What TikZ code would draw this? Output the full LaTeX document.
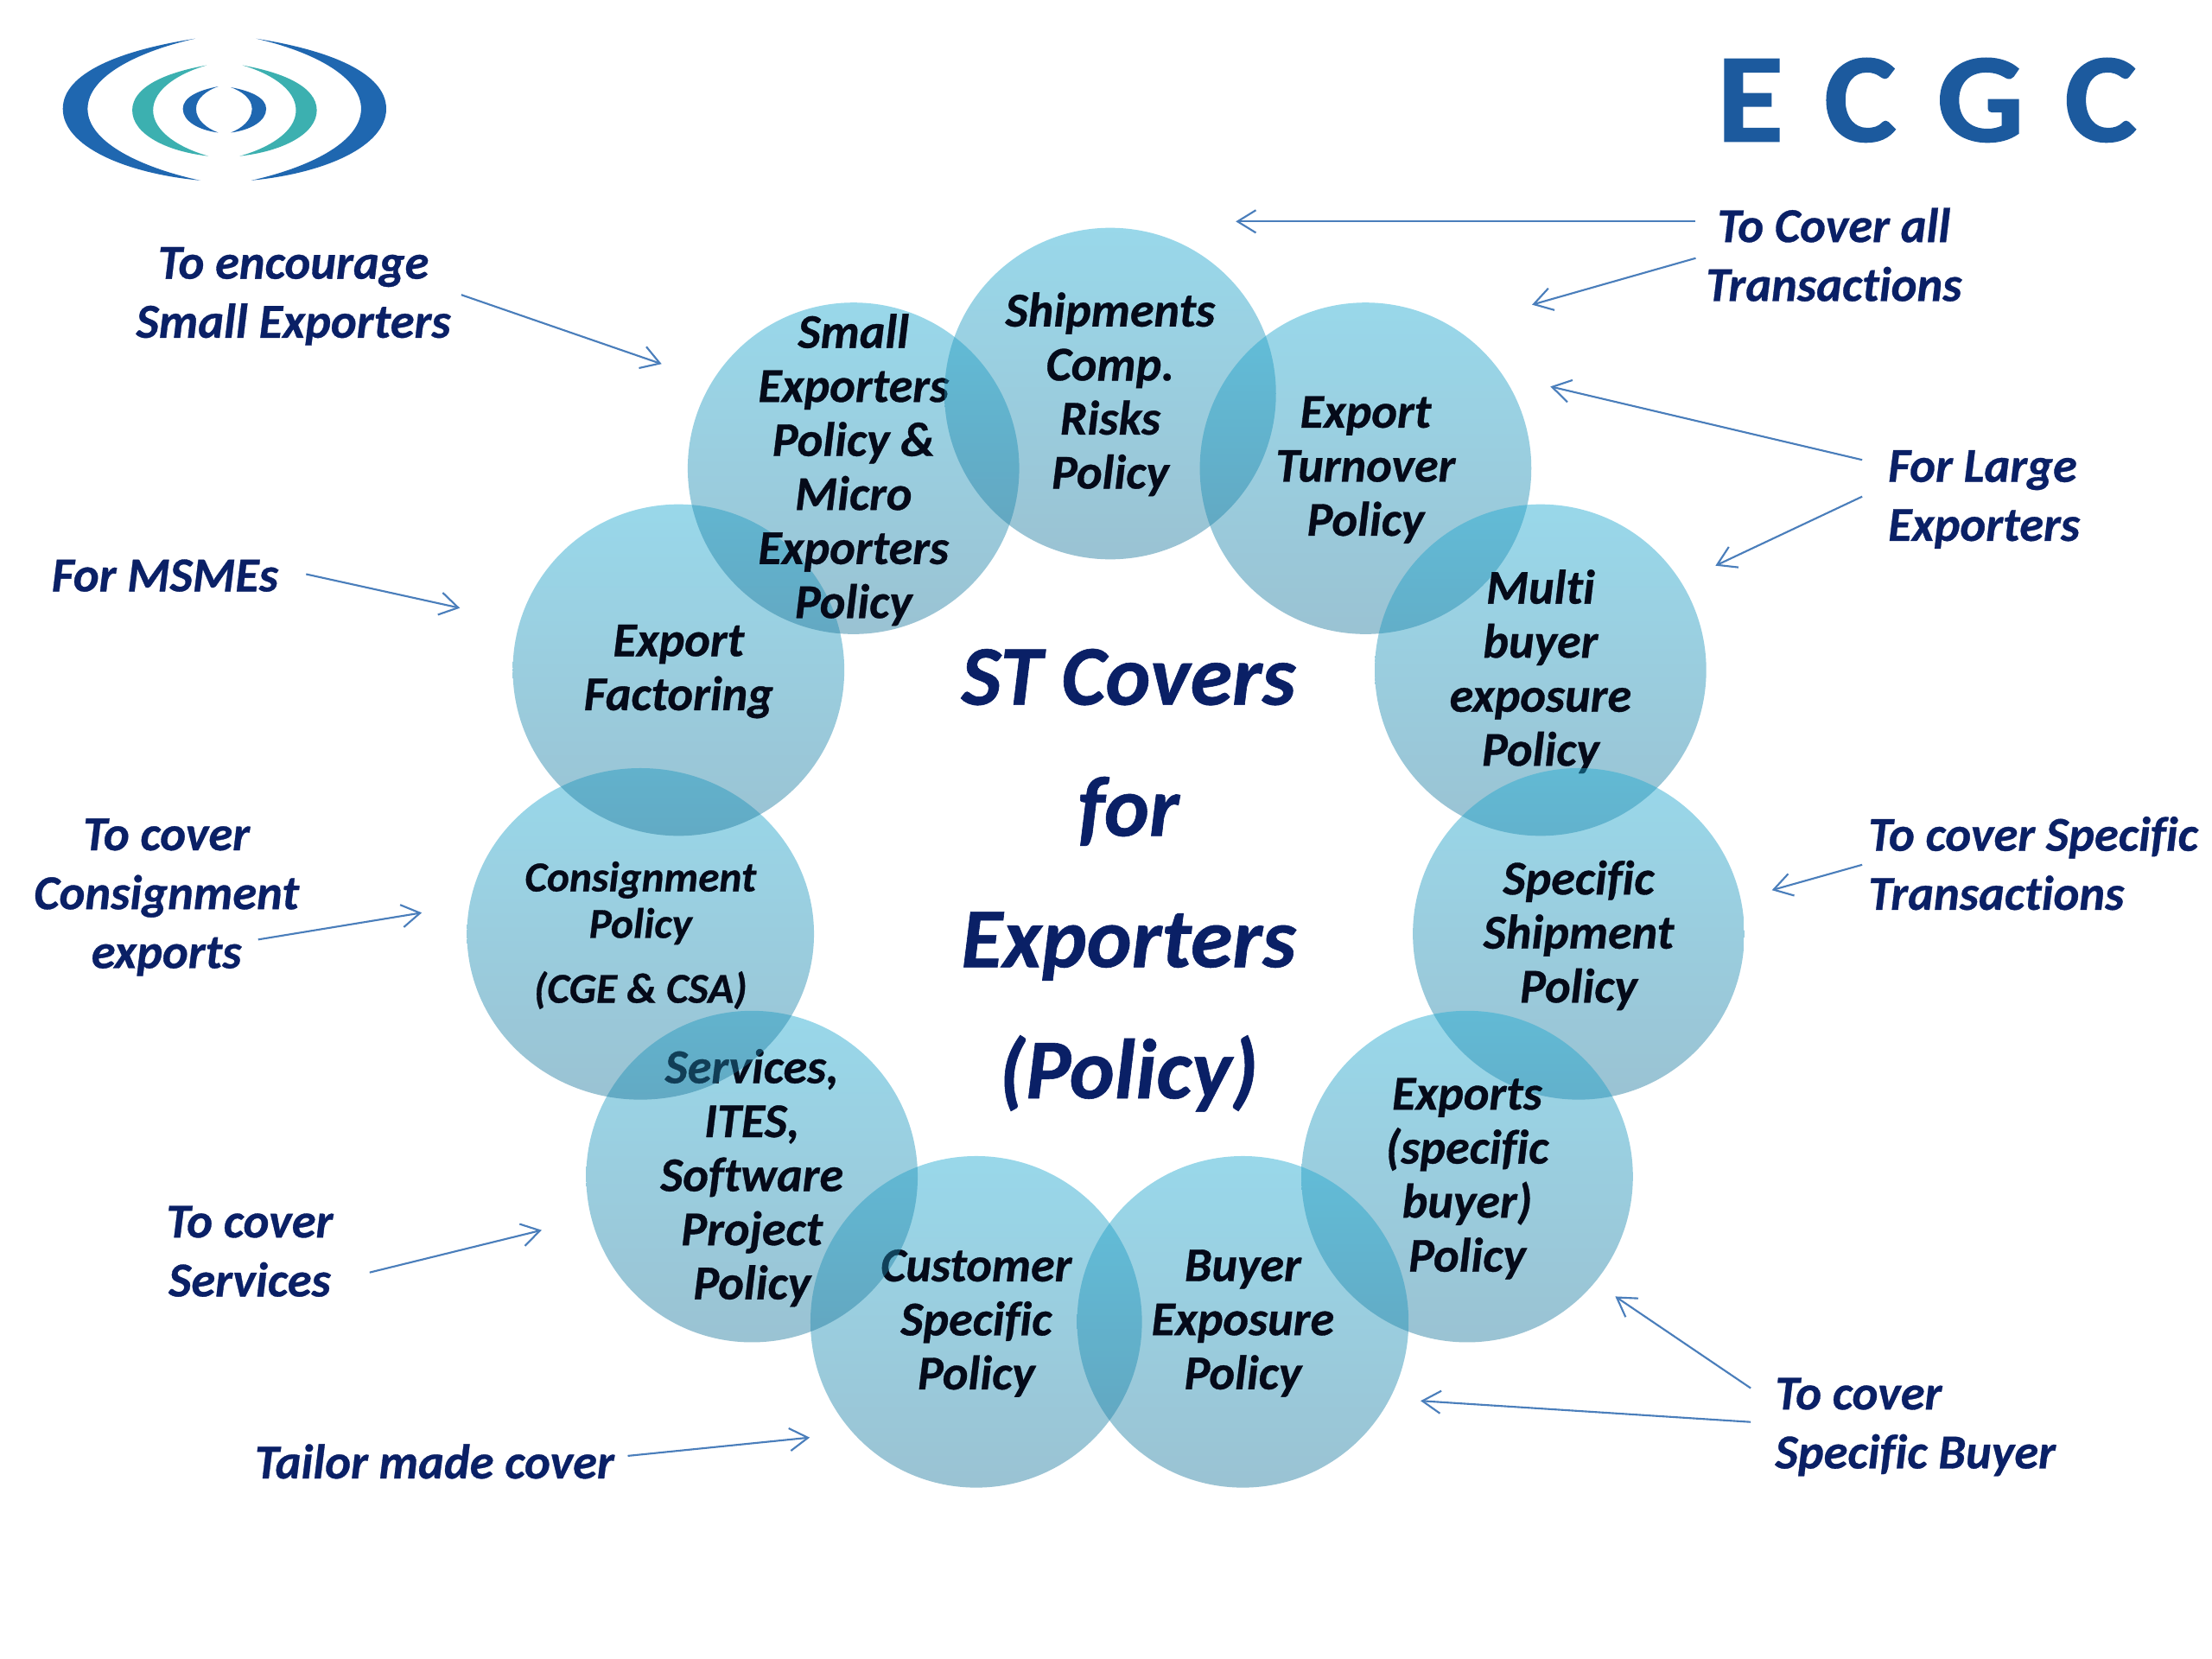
\documentclass[tikz,border=0pt]{standalone}
\usepackage{fontspec}
\setmainfont{Carlito}[Ligatures=NoCommon,BoldItalicFeatures={FakeBold=.6}]
\newfontfamily\brandfont[FakeStretch=1.08,WordSpace=1.3,FakeBold=1,UprightFont=* Bold]{Carlito}
\usetikzlibrary{shapes.geometric,arrows.meta}
\definecolor{navy}{RGB}{10,32,102}
\definecolor{ink}{RGB}{5,10,25}
\definecolor{arrowblue}{RGB}{74,126,187}
\definecolor{bubtop}{RGB}{31,169,209}
\definecolor{bubbot}{RGB}{33,122,158}
\definecolor{logoblue}{RGB}{31,103,176}
\definecolor{logoteal}{RGB}{60,176,176}
\definecolor{ecgc}{RGB}{28,90,158}
\tikzset{
  bubble/.style={ellipse,inner sep=0pt,minimum height=117.5pt,top color=bubtop,bottom color=bubbot,draw=none,fill opacity=.45},
  bubtext/.style={align=center,text=ink,inner sep=0pt,font=\fontsize{17.2}{19.15}\selectfont\bfseries\itshape},
  smalltext/.style={bubtext,font=\fontsize{15.1}{16.5}\selectfont\bfseries\itshape},
  lab/.style={align=center,text=navy,inner sep=0pt,font=\fontsize{17.3}{20.9}\selectfont\bfseries\itshape},
  labl/.style={lab,align=left,anchor=west},
  head/.style={align=center,text=navy,inner sep=0pt,font=\fontsize{30.2}{46.5}\selectfont\bfseries\itshape},
  pointer/.style={draw=arrowblue,line width=.65pt,-{Straight Barb[length=6.5pt,width=8pt]}},
}
\newcommand{\bub}[6][117.5pt]{\node[bubble,minimum width=#1] (#2) at (#3,#4) {};\node[bubtext] (#2-t) at (#3,#5) {#6};}
% crescent: top x,y; bottom x,y; outer x; inner x; mid y
\newcommand{\crescent}[8]{\fill[#1] (#2,#3)
  .. controls ({#2+.55*(#6-#2)},{#3+.16*(#8-#3)}) and (#6,{#8-.52*(#8-#3)}) .. (#6,#8)
  .. controls (#6,{#8+.52*(#5-#8)}) and ({#4+.55*(#6-#4)},{#5-.1*(#5-#8)}) .. (#4,#5)
  .. controls ({#4+.5*(#7-#4)},{#5-.17*(#5-#8)}) and (#7,{#8+.48*(#5-#8)}) .. (#7,#8)
  .. controls (#7,{#8-.48*(#8-#3)}) and ({#2+.5*(#7-#2)},{#3+.17*(#8-#3)}) .. cycle;}
\begin{document}
\begin{tikzpicture}[x=.5pt,y=-.5pt]
\useasboundingbox (0,0) rectangle (1568,1176);
\fill[white] (0,0) rectangle (1568,1176);
% logo
\begin{scope}[x=.1172pt,y=-.1015pt]
\crescent{logoblue}{590}{135}{605}{630}{190}{265}{380}
\crescent{logoblue}{775}{135}{760}{630}{1168}{1092}{380}
\crescent{logoteal}{625}{228}{630}{545}{400}{463}{385}
\crescent{logoteal}{733}{228}{725}{545}{958}{895}{385}
\crescent{logoblue}{660}{302}{660}{463}{553}{593}{380}
\crescent{logoblue}{698}{305}{698}{463}{805}{762}{380}
\end{scope}
\node[text=ecgc,inner sep=0pt,font=\fontsize{45}{45}\brandfont] (brand) at (1366,71) {E C G C};
% bubbles
\bub{customer}{692}{937}{938}{Customer\\Specific\\Policy}
\bub{services}{533}{834}{835}{Services,\\ITES,\\Software\\Project\\Policy}
\node[bubble,minimum width=123pt] (consign) at (454,662) {};
\node[smalltext] (consign-t) at (454,663) {Consignment\\Policy\\[6.5pt](CGE \& CSA)};
\bub{factoring}{481}{475}{476}{Export\\Factoring}
\bub{small}{605}{332}{333}{Small\\Exporters\\Policy \&\\Micro\\Exporters\\Policy}
\bub{shipments}{787}{279}{279.5}{Shipments\\Comp.\\Risks\\Policy}
\bub{turnover}{968}{332}{333}{Export\\Turnover\\Policy}
\bub{multi}{1092}{475}{476}{Multi\\buyer\\exposure\\Policy}
\bub{specific}{1119}{662}{663}{Specific\\Shipment\\Policy}
\bub{exports}{1040}{834}{835.5}{Exports\\(specific\\buyer)\\Policy}
\bub{buyer}{881}{937}{938}{Buyer\\Exposure\\Policy}
% centre
\node[head] (title) at (800,624) {ST Covers\\for\\Exporters\\(Policy)};
% labels
\node[lab] (l1) at (208,210) {To encourage\\Small Exporters};
\node[lab] (l2) at (117,408) {For MSMEs};
\node[lab] (l3) at (118,636) {To cover\\Consignment\\exports};
\node[lab] (l4) at (177,887) {To cover\\Services};
\node[lab] (l5) at (308,1036) {Tailor made cover};
\node[labl] (l6) at (1258,1011.5) {To cover\\Specific Buyer};
\node[labl] (l7) at (1324,612) {To cover Specific\\Transactions};
\node[labl] (l8) at (1338,354) {For Large\\Exporters};
\node[lab] (l9) at (1300,180.5) {To Cover all\\Transactions};
% arrow ends
\coordinate (a1s) at (1202,157); \coordinate (a1e) at (876,157);
\coordinate (a2s) at (1202,183); \coordinate (a2e) at (1086,216);
\coordinate (a3s) at (1320,326); \coordinate (a3e) at (1099,274);
\coordinate (a4s) at (1320,352); \coordinate (a4e) at (1216,401);
\coordinate (a5s) at (1320,613); \coordinate (a5e) at (1256,631);
\coordinate (a6s) at (1241,984); \coordinate (a6e) at (1145,919);
\coordinate (a7s) at (1241,1008); \coordinate (a7e) at (1007,993);
\coordinate (a8s) at (445,1032); \coordinate (a8e) at (574,1019);
\coordinate (a9s) at (262,902); \coordinate (a9e) at (384,872);
\coordinate (a10s) at (183,666); \coordinate (a10e) at (299,647);
\coordinate (a11s) at (217,407); \coordinate (a11e) at (326,431);
\coordinate (a12s) at (327,209); \coordinate (a12e) at (469,258);
\foreach \i in {1,...,12} {\draw[pointer] (a\i s) -- (a\i e);}
\end{tikzpicture}
\end{document}
